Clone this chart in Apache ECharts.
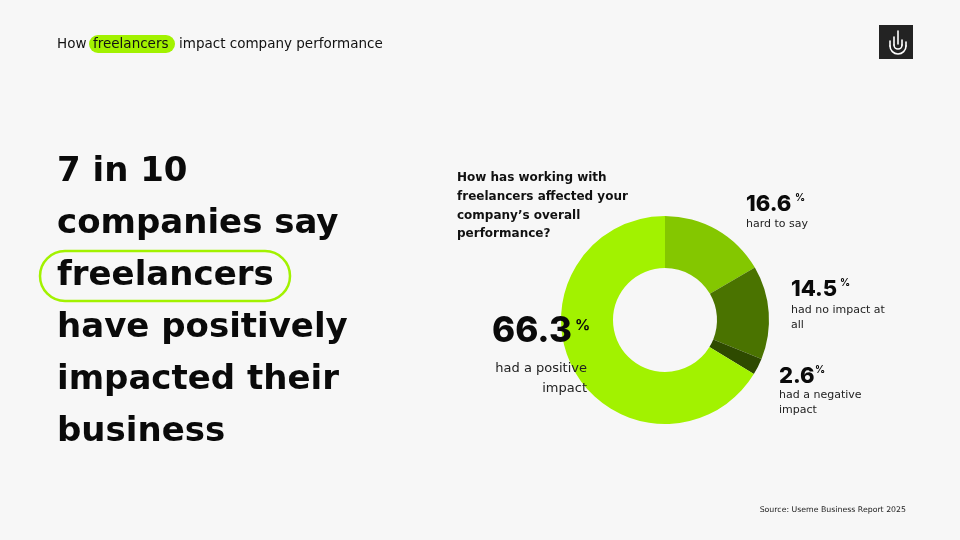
<!DOCTYPE html>
<html><head><meta charset="utf-8">
<script src="https://cdn.jsdelivr.net/npm/echarts@6/dist/echarts.min.js"></script>
<style>html,body{margin:0;padding:0;background:#f7f7f7}#c{width:960px;height:540px}</style>
</head><body><div id="c"></div>
<script>
const categories = ['hard to say', 'had no impact at all', 'had a negative impact', 'had a positive impact'];
const values = [16.6, 14.5, 2.6, 66.3];
const labelLines = [['hard to say'], ['had no impact at', 'all'], ['had a negative', 'impact'], ['had a positive', 'impact']];
const colors = ['#84c700', '#4a7300', '#2e4a00', '#a2f200'];
const headline = ['7 in 10', 'companies say', 'freelancers', 'have positively', 'impacted their', 'business'];
const question = ['How has working with', 'freelancers affected your', "company\u2019s overall", 'performance?'];
const source = 'Source: Useme Business Report 2025';

const F = '"DejaVu Sans", sans-serif';
const FN = 'Inter, "DejaVu Sans", sans-serif';
const chart = echarts.init(document.getElementById('c'), null, {renderer: 'canvas'});
const g = [];
const Z = 100;

// header
const HF = '400 13.5px ' + F;
g.push({type: 'rect', z: Z, shape: {x: 89, y: 35, width: 86, height: 18, r: 9}, style: {fill: '#a2f200'}});
g.push({type: 'text', z: Z, x: 57, y: 44, style: {text: 'How', font: HF, fill: '#111', verticalAlign: 'middle'}});
g.push({type: 'text', z: Z, x: 93, y: 44, style: {text: 'freelancers', font: HF, fill: '#111', verticalAlign: 'middle'}});
g.push({type: 'text', z: Z, x: 179, y: 44, style: {text: 'impact company performance', font: HF, fill: '#111', verticalAlign: 'middle'}});

// logo
g.push({type: 'rect', z: Z, shape: {x: 879, y: 25, width: 34, height: 34}, style: {fill: '#232323'}});
const ls = {stroke: '#fff', lineWidth: 1.6, fill: null, lineCap: 'round'};
g.push({type: 'line', z: Z, shape: {x1: 898, y1: 31, x2: 898, y2: 44}, style: ls});
g.push({type: 'line', z: Z, shape: {x1: 894, y1: 37, x2: 894, y2: 45}, style: ls});
g.push({type: 'line', z: Z, shape: {x1: 902, y1: 40, x2: 902, y2: 45}, style: ls});
g.push({type: 'arc', z: Z, shape: {cx: 898, cy: 45, r: 4, startAngle: 0, endAngle: Math.PI, clockwise: true}, style: ls});
g.push({type: 'line', z: Z, shape: {x1: 890, y1: 41, x2: 890, y2: 46}, style: ls});
g.push({type: 'line', z: Z, shape: {x1: 906, y1: 42, x2: 906, y2: 46}, style: ls});
g.push({type: 'arc', z: Z, shape: {cx: 898, cy: 46, r: 8, startAngle: 0, endAngle: Math.PI, clockwise: true}, style: ls});

// headline
g.push({type: 'rect', z: Z, shape: {x: 40, y: 251, width: 250, height: 50, r: 25}, style: {fill: null, stroke: '#a2f200', lineWidth: 2.5}});
headline.forEach((t, i) => {
  g.push({type: 'text', z: Z, x: 57, y: 172 + i * 52, style: {text: t, font: '700 34px ' + F, fill: '#0a0a0a', verticalAlign: 'middle'}});
});

// question
question.forEach((t, i) => {
  g.push({type: 'text', z: Z, x: 457, y: 178 + i * 18.7, style: {text: t, font: '700 12px ' + F, fill: '#111', verticalAlign: 'middle'}});
});

// labels
const lab = [
  {x: 746, y: 204, px: 795, dx: 746, dy: 224},
  {x: 791, y: 289, px: 840, dx: 791, dy: 310},
  {x: 779, y: 376, px: 815, dx: 779, dy: 395}
];
lab.forEach((p, i) => {
  g.push({type: 'text', z: Z, x: p.x, y: p.y, style: {text: values[i].toFixed(1), font: '800 22px ' + FN, fill: '#0a0a0a', verticalAlign: 'middle'}});
  g.push({type: 'text', z: Z, x: p.px, y: p.y - 6, style: {text: '%', font: '700 10px ' + FN, fill: '#0a0a0a', verticalAlign: 'middle'}});
  labelLines[i].forEach((t, j) => {
    g.push({type: 'text', z: Z, x: p.dx, y: p.dy + j * 15, style: {text: t, font: '400 11px ' + F, fill: '#222', verticalAlign: 'middle'}});
  });
});
// big label
g.push({type: 'text', z: Z, x: 492, y: 331, style: {text: values[3].toFixed(1), font: '800 35px ' + FN, fill: '#0a0a0a', verticalAlign: 'middle'}});
g.push({type: 'text', z: Z, x: 575, y: 325, style: {text: '%', font: '700 15px ' + FN, fill: '#0a0a0a', verticalAlign: 'middle'}});
labelLines[3].forEach((t, j) => {
  g.push({type: 'text', z: Z, x: 587, y: 369 + j * 20, style: {text: t, font: '400 13px ' + F, fill: '#222', verticalAlign: 'middle', align: 'right'}});
});

// source
g.push({type: 'text', z: Z, x: 906, y: 510, style: {text: source, font: '400 7.8px ' + F, fill: '#222', verticalAlign: 'middle', align: 'right'}});

chart.setOption({
  backgroundColor: '#f7f7f7',
  animation: false,
  series: [{
    type: 'pie',
    z: 2,
    center: [665, 320],
    radius: [52, 104],
    startAngle: 90,
    clockwise: true,
    silent: true,
    label: {show: false},
    labelLine: {show: false},
    data: categories.map((c, i) => ({name: c, value: values[i], itemStyle: {color: colors[i]}}))
  }],
  graphic: {elements: g}
});
</script></body></html>
